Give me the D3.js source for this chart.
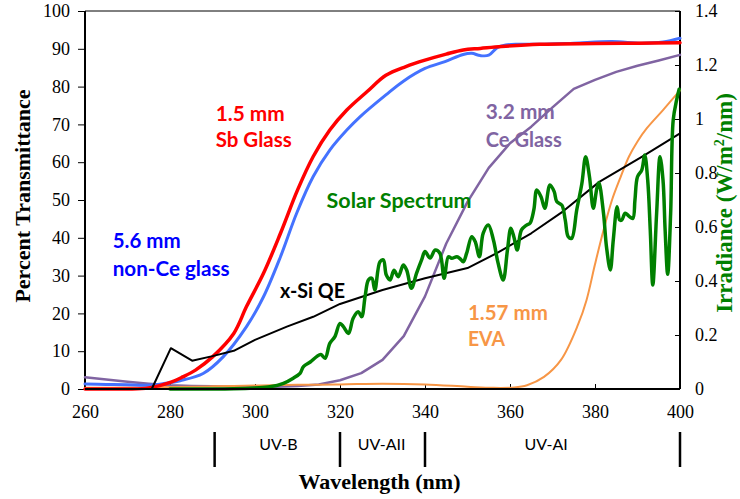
<!DOCTYPE html>
<html><head><meta charset="utf-8">
<script src="https://cdn.jsdelivr.net/npm/d3@7"></script>
<style>body{margin:0;background:#fff}</style>
</head><body><svg id="chart" width="740" height="499"></svg>
<script>
// ---------- data ----------
const wavelengthTicks = [260, 280, 300, 320, 340, 360, 380, 400];
const transmittanceTicks = [0, 10, 20, 30, 40, 50, 60, 70, 80, 90, 100];
const irradianceTicks = [0, 0.2, 0.4, 0.6, 0.8, 1.0, 1.2, 1.4];

// 1.5 mm Sb glass (% transmittance)
const sbGlass = [[260,0],[265,0],[270,0],[275,0.3],[280.4,1.9],[283,3.2],[286,5],[290,8.5],[295,14.7],[298,21.8],[302,30.6],[306,41.2],[310,52.6],[313.7,61.5],[317.6,68.5],[321.6,73.8],[326.4,78.7],[330.8,83],[335.5,85.3],[340,87],[345,88.6],[349,89.7],[353,90.1],[358,90.6],[367,91.2],[380,91.4],[390,91.5],[400,91.6]];
// 5.6 mm non-Ce glass
const nonCeGlass = [[260,1.3],[265,1.2],[270,1.1],[275.7,1.05],[279.5,1.6],[282.4,2.2],[287.8,4.1],[292.5,8.5],[298,16.5],[302,24.4],[306,35],[309.8,46.5],[313.7,56.2],[317.6,63.2],[321.6,68.5],[324.7,72],[330.8,77.8],[335,81.5],[340,84.8],[344.7,86.6],[349,88.5],[351,88.8],[353,88.2],[355,88.3],[357,90.3],[359,91],[362,91.2],[367,91.2],[375,91.5],[384,91.9],[391,91.5],[396,91.8],[400,92.8]];
// 3.2 mm Ce glass
const ceGlass = [[260,3.1],[265,2.5],[270,1.9],[275,1.4],[280,1.0],[285,0.8],[290,0.7],[295,0.6],[300,0.5],[305,0.6],[310,0.8],[315,1.2],[320,2.3],[325,4.2],[330,7.7],[335,14],[340,24.5],[345,38.5],[350,49.5],[355,58.5],[360,65],[365,69.4],[370,74.5],[375,79.4],[380,81.8],[385,83.9],[390,85.5],[395,86.9],[400,88.4]];
// 1.57 mm EVA
const eva = [[260,0.3],[270,0.4],[280,0.5],[290,0.7],[300,0.9],[310,1.1],[320,1.2],[330,1.4],[340,1.2],[350,0.6],[356,0.3],[361,0.4],[364,1],[368,3.2],[372,7.7],[376,17],[378,23.5],[380,33],[382,42],[384,50],[386,56],[388,61.5],[390,65.5],[392.2,69],[396,73.8],[400,79]];
// x-Si quantum efficiency (plotted on % axis)
const xSiQE = [[275.7,0],[280.2,10.8],[285.2,7.5],[290,8.7],[295,10.1],[300,13],[307.5,16.5],[313.7,19.1],[320,22.5],[330,26.2],[340,29.3],[350,32],[357,36],[365,41.2],[372.5,47],[381,54.8],[391,61.4],[400,67.6]];
// Solar spectrum irradiance (W/m²/nm)
const solar = [[280,0],[285,0],[290,0],[295,0.001],[300,0.004],[303.5,0.008],[306.7,0.021],[309,0.04],[310.6,0.058],[311.4,0.083],[313,0.1],[314.5,0.12],[315.5,0.128],[316.5,0.114],[317.6,0.169],[318.8,0.194],[320,0.243],[320.8,0.231],[322,0.206],[323.1,0.262],[324.3,0.286],[325.1,0.268],[325.9,0.342],[326.7,0.404],[327.5,0.41],[328.2,0.367],[329.4,0.471],[330.2,0.478],[330.9,0.422],[331.8,0.404],[332.7,0.44],[333.7,0.416],[334.9,0.459],[335.7,0.44],[336.8,0.373],[338,0.428],[339.2,0.478],[340,0.509],[341.2,0.485],[342.4,0.515],[343.5,0.503],[344.5,0.41],[345.5,0.49],[346.3,0.484],[347.5,0.49],[348.3,0.482],[349,0.471],[349.8,0.503],[351,0.564],[351.8,0.546],[352.8,0.49],[353.7,0.577],[354.9,0.607],[356.1,0.552],[357.2,0.466],[358.4,0.404],[359.4,0.515],[360.2,0.595],[360.9,0.564],[361.7,0.515],[362.7,0.589],[363.9,0.607],[364.7,0.614],[365.6,0.663],[366.3,0.737],[367.3,0.712],[368.2,0.669],[369.4,0.756],[370.4,0.731],[371,0.694],[372.2,0.681],[373,0.626],[373.7,0.564],[374.5,0.558],[375.7,0.663],[376.9,0.76],[377.8,0.86],[378.7,0.786],[379.6,0.669],[380.4,0.74],[380.9,0.765],[382,0.651],[382.7,0.527],[383.6,0.441],[384.3,0.552],[385.2,0.675],[385.8,0.626],[386.3,0.626],[387.1,0.651],[388,0.64],[388.9,0.632],[389.4,0.7],[390,0.786],[391,0.811],[391.7,0.867],[392.4,0.774],[393,0.589],[393.6,0.385],[394.5,0.651],[395.3,0.86],[396,0.774],[396.5,0.589],[397.1,0.425],[397.8,0.651],[398.4,0.996],[399.2,1.07],[399.8,1.11]];

// UV band boundaries and names
const uvBounds = [290.5, 320, 340, 400];
const uvNames = ["UV-B", "UV-AII", "UV-AI"];
const uvLabelAt = [305.5, 329.8, 368.5];

// ---------- layout ----------
const W = 740, H = 499;
const m = {left: 85, right: 60, top: 11, bottom: 110};
const svg = d3.select("#chart");
const x = d3.scaleLinear().domain([260, 400]).range([m.left, W - m.right]);
const yL = d3.scaleLinear().domain([0, 100]).range([H - m.bottom, m.top]);
const yR = d3.scaleLinear().domain([0, 1.4]).range([H - m.bottom, m.top]);
const serif = "'Liberation Serif','Times New Roman',serif";
const sans = "Lato,'Open Sans',sans-serif";

// axes
const gL = svg.append("g").attr("transform", `translate(${m.left},0)`)
  .call(d3.axisLeft(yL).tickValues(transmittanceTicks).tickSize(7).tickSizeOuter(0).tickPadding(8).tickFormat(d3.format("d")));
const gR = svg.append("g").attr("transform", `translate(${W - m.right},0)`)
  .call(d3.axisRight(yR).tickValues(irradianceTicks).tickSize(-5).tickSizeOuter(0).tickPadding(15).tickFormat(d => String(+d.toFixed(1))));
const gB = svg.append("g").attr("transform", `translate(0,${H - m.bottom})`)
  .call(d3.axisBottom(x).tickValues(wavelengthTicks).tickSize(-5).tickSizeOuter(0).tickPadding(16).tickFormat(d3.format("d")));
[gL, gR, gB].forEach(g => {
  g.select(".domain").remove();
  g.selectAll("text").attr("font-family", serif).attr("font-size", 18).attr("fill", "#000");
  g.selectAll("line").attr("stroke", "#000").attr("stroke-width", 1);
});

// frame
const x0 = x.range()[0], x1 = x.range()[1], y0 = yL.range()[0], y1 = yL.range()[1];
svg.append("line").attr("x1", x0).attr("x2", x1).attr("y1", y1).attr("y2", y1).attr("stroke", "#000").attr("stroke-width", 1);
svg.append("line").attr("x1", x0).attr("x2", x0).attr("y1", y1).attr("y2", y0).attr("stroke", "#000").attr("stroke-width", 2);
svg.append("line").attr("x1", x1).attr("x2", x1).attr("y1", y1).attr("y2", y0).attr("stroke", "#000").attr("stroke-width", 2);

// lines
const smooth = d3.curveCatmullRom.alpha(0.5);
function draw(data, yScale, color, width, curve) {
  svg.append("path").datum(data)
    .attr("fill", "none").attr("stroke", color).attr("stroke-width", width)
    .attr("stroke-linejoin", "round").attr("stroke-linecap", "round")
    .attr("d", d3.line().x(d => x(d[0])).y(d => yScale(d[1])).curve(curve));
}
draw(ceGlass, yL, "#8064A2", 2.5, d3.curveLinear);
draw(eva, yL, "#F79646", 2, smooth);
draw(nonCeGlass, yL, "#4472FF", 3, smooth);
draw(sbGlass, yL, "#FF0000", 3.5, smooth);
draw(xSiQE, yL, "#000000", 2, d3.curveLinear);
draw(solar, yR, "#008000", 3.5, smooth);

// bottom axis line (over the curves)
svg.append("line").attr("x1", x0).attr("x2", x1).attr("y1", y0).attr("y2", y0).attr("stroke", "#000").attr("stroke-width", 2);

// series annotations [text, nm, %, colour, width]
const notes = [
  ["1.5 mm", 290.75, 70.9, "#FF0000", 69],
  ["Sb Glass", 290.75, 64.0, "#FF0000", 76],
  ["5.6 mm", 266.5, 37.3, "#0000FF", 68],
  ["non-Ce glass", 266.5, 29.9, "#0000FF", 117],
  ["x-Si QE", 305.9, 24.1, "#000000", 65],
  ["Solar Spectrum", 316.85, 47.9, "#008000", 145],
  ["3.2 mm", 354.3, 71.4, "#8064A2", 69],
  ["Ce Glass", 354.3, 64.0, "#8064A2", 76],
  ["1.57 mm", 350.1, 18.3, "#F79646", 80],
  ["EVA", 350.1, 11.4, "#F79646", 37]
];
svg.append("g").selectAll("text").data(notes).join("text")
  .attr("x", d => x(d[1])).attr("y", d => yL(d[2]))
  .attr("fill", d => d[3]).attr("font-family", sans).attr("font-weight", "bold").attr("font-size", 20)
  .attr("textLength", d => d[4]).attr("lengthAdjust", "spacingAndGlyphs")
  .text(d => d[0]);

// UV band markers
svg.append("g").selectAll("line").data(uvBounds).join("line")
  .attr("x1", d => x(d)).attr("x2", d => x(d)).attr("y1", 432).attr("y2", 467)
  .attr("stroke", "#000").attr("stroke-width", 2.5);
svg.append("g").selectAll("text").data(uvNames).join("text")
  .attr("x", (d, i) => x(uvLabelAt[i])).attr("y", 450).attr("text-anchor", "middle")
  .attr("font-family", sans).attr("font-size", 16).attr("fill", "#000").text(d => d);

// axis titles
svg.append("text").attr("x", (x0 + x1) / 2 - 3).attr("y", 489).attr("text-anchor", "middle")
  .attr("font-family", serif).attr("font-weight", "bold").attr("font-size", 22).text("Wavelength (nm)");
svg.append("text").attr("transform", "translate(30,196) rotate(-90)").attr("text-anchor", "middle")
  .attr("font-family", serif).attr("font-weight", "bold").attr("font-size", 22).text("Percent Transmittance");
const rt = svg.append("text").attr("transform", "translate(732,203) rotate(-90)").attr("text-anchor", "middle")
  .attr("font-family", serif).attr("font-weight", "bold").attr("font-size", 23).attr("fill", "#008000");
rt.append("tspan").text("Irradiance (W/m");
rt.append("tspan").attr("font-size", 14).attr("dy", -8).text("2");
rt.append("tspan").attr("dy", 8).text("/nm)");
</script></body></html>
